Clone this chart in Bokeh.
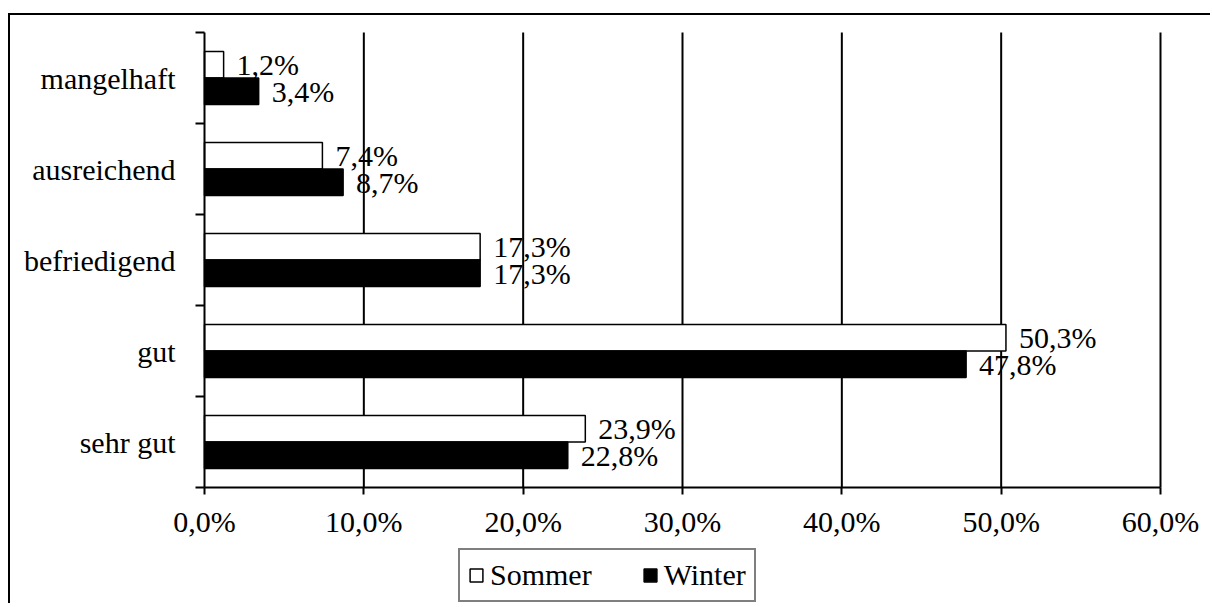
from bokeh.plotting import figure
from bokeh.models import ColumnDataSource, FixedTicker, Legend, LegendItem, Range1d
from bokeh.embed import file_html
from bokeh.resources import INLINE

categories = ["sehr gut", "gut", "befriedigend", "ausreichend", "mangelhaft"]
sommer = [23.9, 50.3, 17.3, 7.4, 1.2]
winter = [22.8, 47.8, 17.3, 8.7, 3.4]
x_ticks = [0, 10, 20, 30, 40, 50, 60]
x_tick_labels = ["0,0%", "10,0%", "20,0%", "30,0%", "40,0%", "50,0%", "60,0%"]

FONT = "'Liberation Serif', 'DejaVu Serif', serif"
FS = "30px"

n = len(categories)
centers = [i + 0.5 for i in range(n)]
off = 0.145
bar_h = 0.29

def fmt(v):
    return f"{v:.1f}".replace(".", ",") + "%"

src_s = ColumnDataSource(dict(y=[c + off for c in centers], x=sommer, lab=[fmt(v) for v in sommer]))
src_w = ColumnDataSource(dict(y=[c - off for c in centers], x=winter, lab=[fmt(v) for v in winter]))

# canvas (page px): x 10..1212, y 15..605 ; plot area: x 204..1160, y 32..487
W, H = 1202, 590
CX0, CY0 = 10, 15
PX0, PX1, PY0, PY1 = 204, 1160, 32, 487
x_max_val = x_ticks[-1]
sx = (PX1 - PX0) / x_max_val
sy = (PY1 - PY0) / n
x_lo = -(PX0 - CX0) / sx
x_hi = x_max_val + (CX0 + W - PX1) / sx
y_hi = n + (PY0 - CY0) / sy
y_lo = -(CY0 + H - PY1) / sy

p = figure(width=W, height=H, output_backend="svg", toolbar_location=None,
           x_range=Range1d(x_lo, x_hi), y_range=Range1d(y_lo, y_hi),
           min_border_left=0, min_border_right=0, min_border_top=0, min_border_bottom=0)
p.styles = {"border-top": "2px solid black", "border-left": "2px solid black",
            "margin-top": "13px", "margin-left": "8px"}
p.outline_line_color = None
p.background_fill_color = "white"

# vertical grid lines (plot area only)
p.segment(x0=x_ticks[1:], x1=x_ticks[1:], y0=0, y1=n, line_color="black", line_width=2)

r_s = p.hbar(y="y", right="x", left=0, height=bar_h, source=src_s,
             fill_color="white", line_color="black", line_width=1.5)
r_w = p.hbar(y="y", right="x", left=0, height=bar_h, source=src_w,
             fill_color="black", line_color="black", line_width=1.5)

for src in (src_s, src_w):
    p.text(x="x", y="y", text="lab", source=src, x_offset=13,
           text_baseline="middle", text_align="left",
           text_font=FONT, text_font_size=FS, text_color="black")

# x axis, drawn at y = 0
p.xaxis.fixed_location = 0
p.xaxis.bounds = (0, x_max_val)
p.xaxis.ticker = FixedTicker(ticks=x_ticks, minor_ticks=[])
p.xaxis.major_label_overrides = {t: l for t, l in zip(x_ticks, x_tick_labels)}
p.xaxis.major_tick_in = 0
p.xaxis.major_tick_out = 7
p.xaxis.minor_tick_line_color = None
p.xaxis.axis_line_width = 2
p.xaxis.major_tick_line_width = 2
p.xaxis.major_label_text_font = FONT
p.xaxis.major_label_text_font_size = FS
p.xaxis.major_label_standoff = 10
p.xaxis.major_label_text_color = "black"

# y axis, drawn at x = 0
p.yaxis.fixed_location = 0
p.yaxis.bounds = (0, n)
p.yaxis.ticker = FixedTicker(ticks=centers, minor_ticks=list(range(n + 1)))
p.yaxis.major_label_overrides = {c: name for c, name in zip(centers, categories)}
p.yaxis.major_tick_in = 0
p.yaxis.major_tick_out = 0
p.yaxis.minor_tick_in = 0
p.yaxis.minor_tick_out = 9
p.yaxis.minor_tick_line_width = 2
p.yaxis.axis_line_width = 2
p.yaxis.major_label_text_font = FONT
p.yaxis.major_label_text_font_size = FS
p.yaxis.major_label_standoff = 20
p.yaxis.major_label_text_color = "black"

p.xgrid.grid_line_color = None
p.ygrid.grid_line_color = None

legend = Legend(items=[LegendItem(label="Sommer", renderers=[r_s]),
                       LegendItem(label="Winter", renderers=[r_w])],
                orientation="horizontal", location=(458 - CX0, CY0 + H - 602))
legend.glyph_width = 16
legend.glyph_height = 16
legend.label_text_font = FONT
legend.label_text_font_size = FS
legend.label_text_color = "black"
legend.label_standoff = 6
legend.spacing = 50
legend.padding = 8
legend.margin = 0
legend.border_line_color = "black"
legend.border_line_width = 2
legend.background_fill_alpha = 1
p.add_layout(legend, "center")

open("out.html", "w").write(file_html(p, INLINE))
